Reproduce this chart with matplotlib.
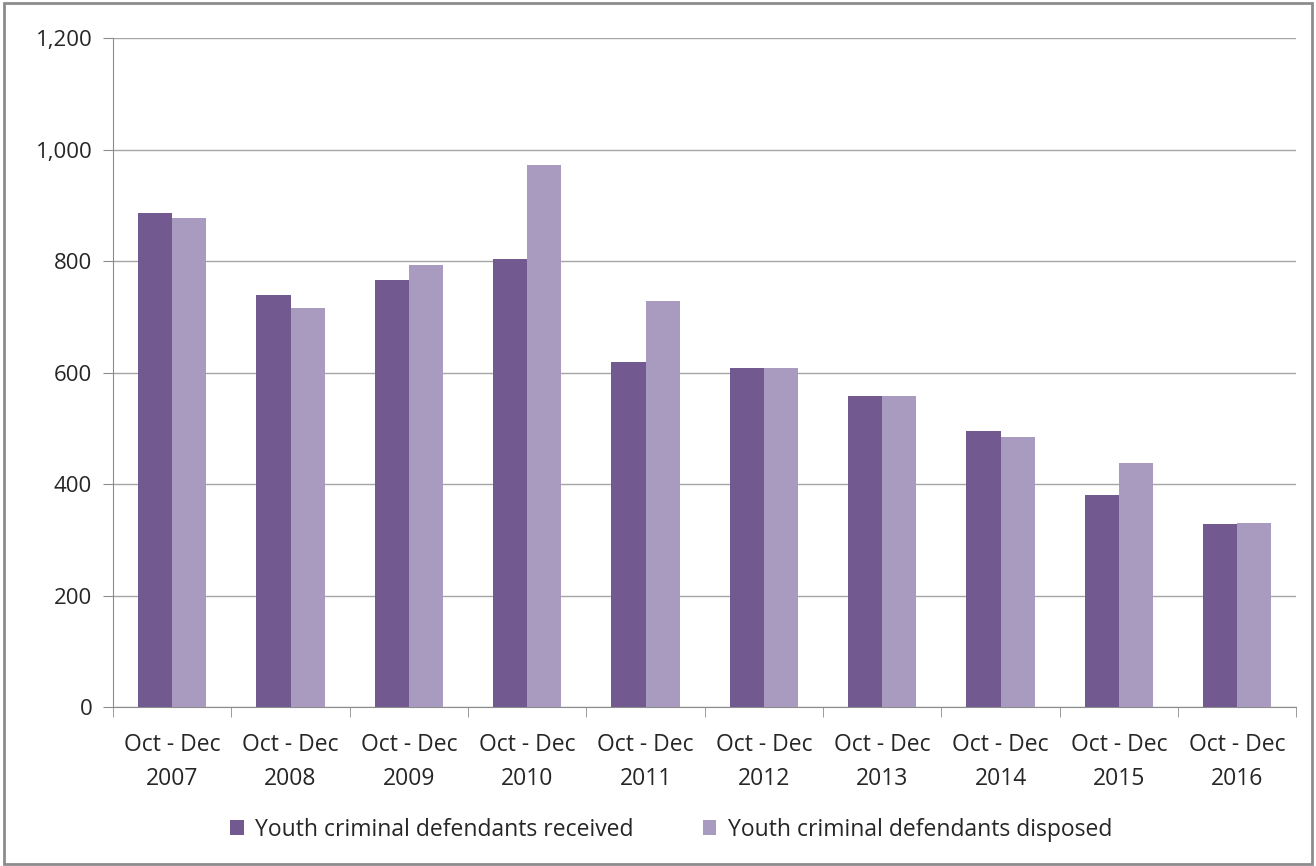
import numpy as np
import matplotlib.pyplot as plt
from matplotlib.patches import Rectangle

years = ['2007', '2008', '2009', '2010', '2011', '2012', '2013', '2014', '2015', '2016']
labels = ['Oct - Dec\n' + y for y in years]
received = [886, 739, 766, 804, 619, 608, 558, 495, 380, 328]
disposed = [877, 716, 793, 972, 728, 608, 558, 484, 438, 330]

c_rec = '#725A91'
c_dis = '#A99BC0'
plt.rcParams['font.family'] = ['Open Sans', 'DejaVu Sans']

fig = plt.figure(figsize=(13.16, 8.66), dpi=100)
ax = fig.add_axes([0.0859, 0.1836, 0.8992, 0.7725])

x = np.arange(len(years))
w = 0.288
ax.bar(x - w / 2, received, w, color=c_rec, label='Youth criminal defendants received', zorder=3)
ax.bar(x + w / 2, disposed, w, color=c_dis, label='Youth criminal defendants disposed', zorder=3)

ax.set_xlim(-0.5, len(years) - 0.5)
ax.set_ylim(0, 1200)
ax.set_yticks(range(0, 1201, 200))
ax.set_yticklabels(['{:,}'.format(v) for v in range(0, 1201, 200)], fontsize=16, color='#262626')
ax.yaxis.grid(True, color='#A6A6A6', linewidth=1, zorder=0)

ax.set_xticks(x)
ax.set_xticklabels(labels, fontsize=16.5, color='#262626', linespacing=1.55)
ax.set_xticks(np.arange(-0.5, len(years)), minor=True)
ax.tick_params(axis='x', which='major', length=0, pad=19)
ax.tick_params(axis='x', which='minor', length=7, color='#8C8C8C')
ax.tick_params(axis='y', length=7, color='#8C8C8C', pad=8)

for s in ['top', 'right']:
    ax.spines[s].set_visible(False)
ax.spines['left'].set_color('#8C8C8C')
ax.spines['bottom'].set_color('#8C8C8C')

leg = fig.legend(loc='center', bbox_to_anchor=(0.51, 0.042), ncol=2, frameon=False,
                 fontsize=16.5, handlelength=0.6, handleheight=0.6, columnspacing=3.0,
                 handletextpad=0.5)
for t in leg.get_texts():
    t.set_color('#262626')

fig.patches.append(Rectangle((0.003, 0.002), 0.994, 0.994, transform=fig.transFigure,
                             fill=False, edgecolor='#8C8C8C', linewidth=2))

fig.savefig('out.png', dpi=100)
